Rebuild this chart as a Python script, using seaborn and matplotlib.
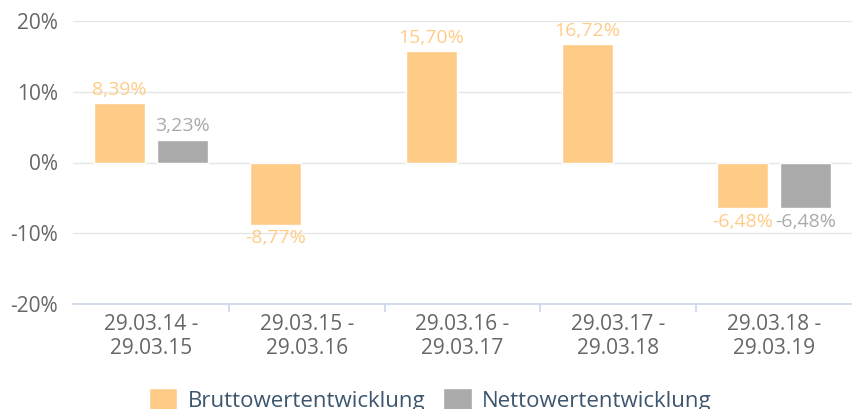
import matplotlib
matplotlib.use("Agg")
import matplotlib.pyplot as plt
import seaborn as sns
import pandas as pd
import numpy as np

# chart data
periods = ["29.03.14 -\n29.03.15", "29.03.15 -\n29.03.16", "29.03.16 -\n29.03.17",
           "29.03.17 -\n29.03.18", "29.03.18 -\n29.03.19"]
brutto = [8.39, -8.77, 15.70, 16.72, -6.48]
netto = [3.23, np.nan, np.nan, np.nan, -6.48]
series = ["Bruttowertentwicklung", "Nettowertentwicklung"]
colors = ["#ffcc88", "#aaaaaa"]
yticks = [-20, -10, 0, 10, 20]

df = pd.DataFrame({
    "period": periods * 2,
    "value": brutto + netto,
    "series": [series[0]] * len(periods) + [series[1]] * len(periods),
})

sns.set_theme(style="white")
plt.rcParams["font.family"] = ["Open Sans", "DejaVu Sans"]

fig = plt.figure(figsize=(8.52, 4.09), dpi=100)
ax = fig.add_axes([73 / 852, 105 / 409, 1 - 73 / 852, (304 - 21) / 409])

sns.barplot(data=df, x="period", y="value", hue="series", order=periods,
            hue_order=series, palette=colors, width=0.8, gap=0.18,
            saturation=1, ax=ax, legend=True)

def fmt(v):
    return f"{v:.2f}".replace(".", ",") + "%"

for cont, col in zip(ax.containers, colors):
    ax.bar_label(cont, labels=[fmt(v) for v in cont.datavalues], padding=3,
                 color=col, fontsize=14)

ax.set_ylim(-20, 20)
ax.set_xlim(-0.5, len(periods) - 0.5)
ax.set_yticks(yticks)
ax.set_yticklabels([f"{t}%" for t in yticks])
ax.set_xlabel("")
ax.set_ylabel("")

ax.grid(axis="y", color="#e6e6e6", linewidth=1)
ax.set_axisbelow(True)
for side in ["left", "right", "top"]:
    ax.spines[side].set_visible(False)
ax.spines["bottom"].set_color("#ccd6eb")
ax.spines["bottom"].set_linewidth(1.2)

ax.tick_params(axis="y", length=0, pad=11, labelsize=15, labelcolor="#666666")
ax.tick_params(axis="x", which="major", length=0, pad=7, labelsize=15,
               labelcolor="#666666")
ax.set_xticks(np.arange(0.5, len(periods) - 1, 1), minor=True)
ax.tick_params(axis="x", which="minor", length=6, width=1.2, color="#ccd6eb",
               bottom=True)

handles, labels = ax.get_legend_handles_labels()
ax.legend_.remove()
fig.legend(handles, labels, loc="center", bbox_to_anchor=(430 / 852, 9 / 409),
           ncol=2, frameon=False, fontsize=16, handlelength=1.3,
           handleheight=1.3, handletextpad=0.45, columnspacing=0.8,
           labelcolor="#3d566e")

fig.savefig("out.png", dpi=100)
